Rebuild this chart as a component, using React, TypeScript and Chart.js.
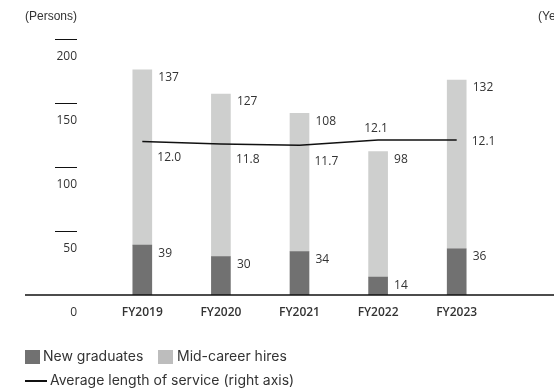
import React, { useEffect, useRef } from "react";
import { Chart, registerables } from "chart.js";

Chart.register(...registerables);

// Fiscal years shown on the category axis
const fiscalYears = ["FY2019", "FY2020", "FY2021", "FY2022", "FY2023"];
// Hires per year (persons)
const newGraduates = [39, 30, 34, 14, 36];
const midCareerHires = [137, 127, 108, 98, 132];
// Average length of service (years, right axis)
const avgService = [12.0, 11.8, 11.7, 12.1, 12.1];
// Left-axis tick values
const personTicks = [0, 50, 100, 150, 200];

const DARK = "#717171";
const LIGHT = "#cecfce";
const TEXT = "#333333";
const NUM_FONT = "12px 'Open Sans', 'Noto Sans', sans-serif";
const LEGEND_FONT = "14px Inter, 'Noto Sans', sans-serif";

// Where each service-length label sits relative to its point
const serviceLabelPlacement = ["below", "below", "below", "above", "right"];

const decorations = {
  id: "decorations",
  afterDatasetsDraw(chart: any) {
    const ctx: CanvasRenderingContext2D = chart.ctx;
    const x = chart.scales.x;
    const y = chart.scales.y;
    ctx.save();

    // Unit titles
    ctx.fillStyle = TEXT;
    ctx.font = "12px 'Liberation Sans', Arial, sans-serif";
    ctx.textBaseline = "middle";
    ctx.textAlign = "left";
    ctx.fillText("(Persons)", 25, 17);
    ctx.fillText("(Years)", 538, 17);

    // Left axis: short tick dashes with the value beneath each
    ctx.font = NUM_FONT;
    ctx.textAlign = "right";
    ctx.strokeStyle = "#111";
    ctx.lineWidth = 1;
    personTicks.forEach((v) => {
      const py = y.getPixelForValue(v);
      if (v !== 0) {
        ctx.beginPath();
        ctx.moveTo(55, Math.round(py) + 0.5);
        ctx.lineTo(77, Math.round(py) + 0.5);
        ctx.stroke();
      }
      ctx.fillText(String(v), 77, py + 18);
    });

    // Baseline across the full width
    const by = y.getPixelForValue(0);
    ctx.lineWidth = 1.5;
    ctx.beginPath();
    ctx.moveTo(25, by);
    ctx.lineTo(chart.width, by);
    ctx.stroke();

    // Category labels
    ctx.font = "600 12px 'Open Sans', 'Noto Sans', sans-serif";
    ctx.textAlign = "center";
    fiscalYears.forEach((label, i) => {
      ctx.fillText(label, x.getPixelForValue(i), by + 18);
    });

    // Bar value labels, to the right of each segment's top
    ctx.font = NUM_FONT;
    ctx.textAlign = "left";
    [0, 1].forEach((di) => {
      const meta = chart.getDatasetMeta(di);
      const values = chart.data.datasets[di].data as number[];
      meta.data.forEach((bar: any, i: number) => {
        ctx.fillText(String(values[i]), bar.x + 16, bar.y + 8);
      });
    });

    // Service-length labels
    const lineMeta = chart.getDatasetMeta(2);
    lineMeta.data.forEach((pt: any, i: number) => {
      const txt = avgService[i].toFixed(1);
      const place = serviceLabelPlacement[i];
      if (place === "below") {
        ctx.textAlign = "left";
        ctx.fillText(txt, pt.x + 15, pt.y + 16);
      } else if (place === "above") {
        ctx.textAlign = "center";
        ctx.fillText(txt, pt.x - 2, pt.y - 12);
      } else {
        ctx.textAlign = "left";
        ctx.fillText(txt, pt.x + 15, pt.y + 1);
      }
    });

    // Legend
    ctx.font = LEGEND_FONT;
    ctx.textAlign = "left";
    ctx.fillStyle = DARK;
    ctx.fillRect(25, 350, 15, 14);
    ctx.fillStyle = TEXT;
    ctx.fillText("New graduates", 43, 357);
    ctx.fillStyle = "#bdbdbd";
    ctx.fillRect(158, 350, 15, 14);
    ctx.fillStyle = TEXT;
    ctx.fillText("Mid-career hires", 177, 357);
    ctx.strokeStyle = "#111";
    ctx.lineWidth = 2;
    ctx.beginPath();
    ctx.moveTo(25, 381);
    ctx.lineTo(47, 381);
    ctx.stroke();
    ctx.fillText("Average length of service (right axis)", 50, 381);

    ctx.restore();
  },
};

export default function App() {
  const canvasRef = useRef<HTMLCanvasElement>(null);

  useEffect(() => {
    const canvas = canvasRef.current;
    if (!canvas) return;
    const chart = new Chart(canvas, {
      type: "bar",
      data: {
        labels: fiscalYears,
        datasets: [
          {
            type: "bar",
            label: "New graduates",
            data: newGraduates,
            backgroundColor: DARK,
            barThickness: 19,
            yAxisID: "y",
            order: 2,
          },
          {
            type: "bar",
            label: "Mid-career hires",
            data: midCareerHires,
            backgroundColor: LIGHT,
            barThickness: 19,
            yAxisID: "y",
            order: 2,
          },
          {
            type: "line",
            label: "Average length of service (right axis)",
            data: avgService,
            borderColor: "#111",
            borderWidth: 1.5,
            pointRadius: 0,
            tension: 0,
            yAxisID: "y1",
            order: 1,
          } as any,
        ],
      },
      options: {
        responsive: false,
        animation: false,
        devicePixelRatio: 1,
        layout: { padding: { left: 103, right: 58, top: 39, bottom: 94 } },
        plugins: { legend: { display: false }, tooltip: { enabled: false } },
        scales: {
          x: { display: false, stacked: true, offset: true },
          y: { display: false, stacked: true, min: 0, max: 200 },
          y1: { display: false, min: 0, max: 20 },
        },
      },
      plugins: [decorations],
    });
    return () => chart.destroy();
  }, []);

  return (
    <div style={{ position: "absolute", left: 0, top: 0, width: 554, height: 389, background: "#fff" }}>
      <canvas ref={canvasRef} width={554} height={389} style={{ width: 554, height: 389 }} />
    </div>
  );
}
